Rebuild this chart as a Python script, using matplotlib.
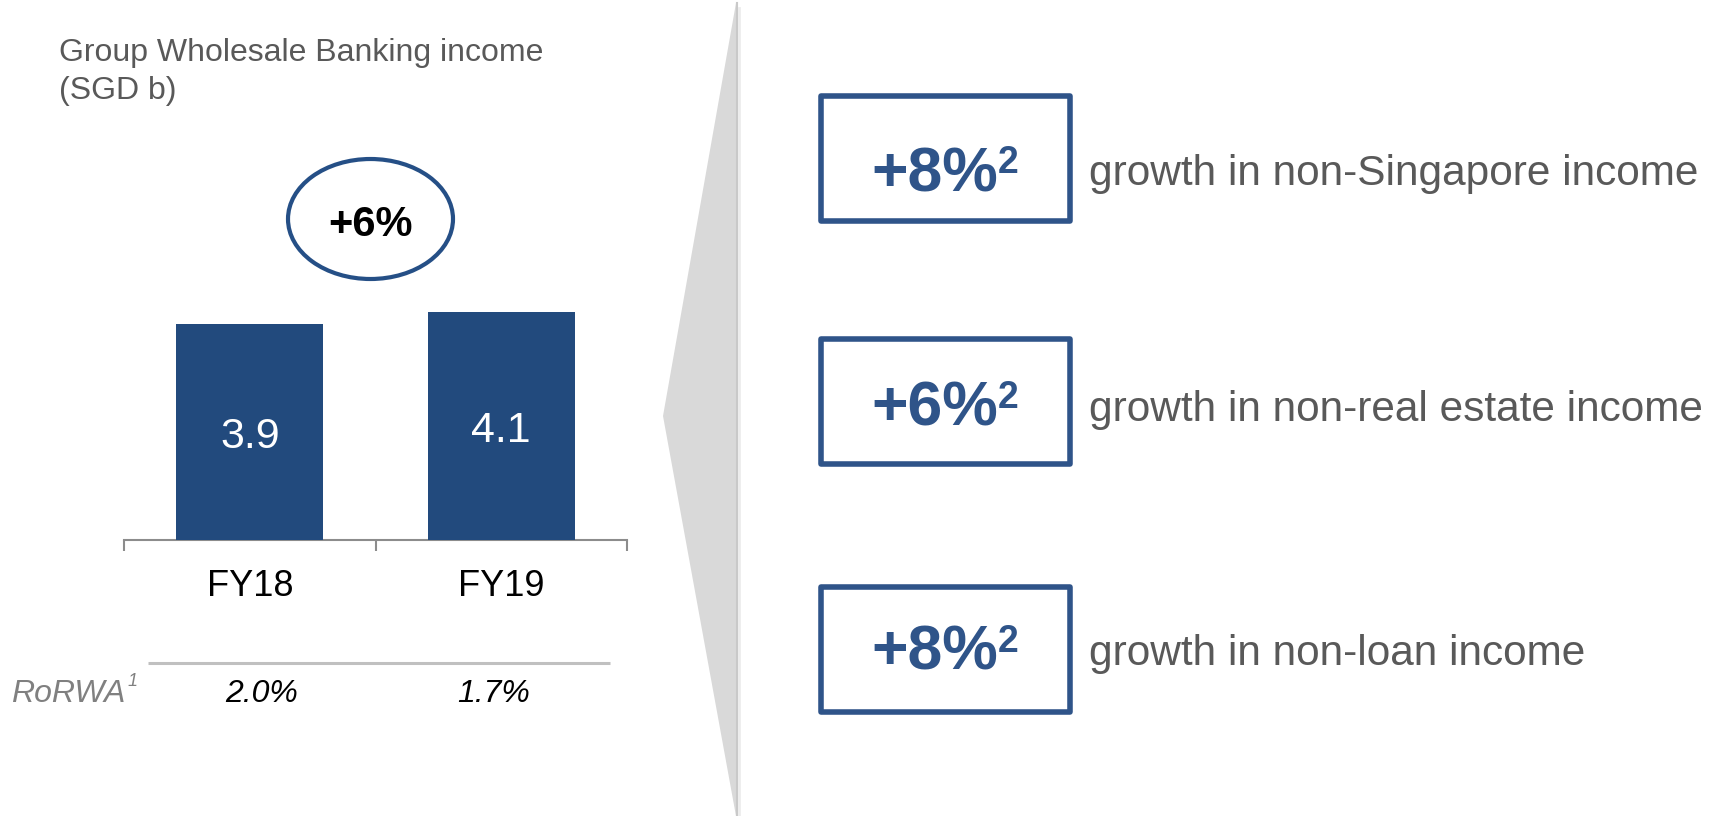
import matplotlib
matplotlib.use("Agg")
import matplotlib.pyplot as plt
from matplotlib.patches import Polygon, Rectangle, Ellipse

plt.rcParams['font.family'] = ['Liberation Sans', 'DejaVu Sans']

# ---------------- data ----------------
categories = ["FY18", "FY19"]
income = [3.9, 4.1]
income_labels = ["3.9", "4.1"]
growth_label = "+6%"
rorwa_title = "RoRWA"
rorwa_values = ["2.0%", "1.7%"]
kpi_values = ["+8%", "+6%", "+8%"]
kpi_texts = ["growth in non-Singapore income",
             "growth in non-real estate income",
             "growth in non-loan income"]
title_lines = ["Group Wholesale Banking income", "(SGD b)"]

# ---------------- style ----------------
BAR = "#224a7d"
ELL = "#254f86"
BOX = "#2f5489"
GREY_TXT = "#595959"

W, H = 1725, 816
fig = plt.figure(figsize=(W / 100, H / 100), dpi=100)
fig.patch.set_facecolor("white")

# background overlay axes in pixel coordinates (y downward)
bg = fig.add_axes([0, 0, 1, 1])
bg.set_xlim(0, W)
bg.set_ylim(H, 0)
bg.axis("off")
bg.set_zorder(0)

# title
bg.text(59, 61, title_lines[0], fontsize=23, color=GREY_TXT, ha="left", va="baseline")
bg.text(59, 99, title_lines[1], fontsize=23, color=GREY_TXT, ha="left", va="baseline")

# growth ellipse
bg.add_patch(Ellipse((370.5, 219), 165, 120, fill=False, edgecolor=ELL, lw=3))
bg.text(370.5, 236, growth_label, fontsize=30, fontweight="bold", color="black",
        ha="center", va="baseline")

# RoRWA row
bg.plot([148, 610], [663, 663], color="#c0c0c0", lw=2.2, solid_capstyle="butt")
bg.text(11, 702, rorwa_title, fontsize=23, style="italic", color="#808080",
        ha="left", va="baseline")
bg.text(128, 686, "1", fontsize=13, style="italic", color="#808080",
        ha="left", va="baseline")

# chevron / wedge separator
bg.add_patch(Polygon([[737, 5], [665, 418], [737, 818]], closed=True,
                     facecolor="#e8e8e8", edgecolor="none"))
bg.add_patch(Polygon([[736, 3], [663, 416], [736, 816]], closed=True,
                     facecolor="#d9d9d9", edgecolor="none"))
bg.plot([736.5, 736.5], [3, 816], color="#c9c9c9", lw=1.5)
bg.plot([738.5, 738.5], [8, 816], color="#ececec", lw=2)

# KPI boxes
box_tops = [93, 336, 584]
text_mid = [170, 405, 649]
box_h = 131
box_x0, box_x1 = 818, 1073
lw_px = 5.6
for top, tm, val, txt in zip(box_tops, text_mid, kpi_values, kpi_texts):
    bg.add_patch(Rectangle((box_x0 + lw_px / 2, top + lw_px / 2),
                           box_x1 - box_x0 - lw_px, box_h - lw_px,
                           fill=False, edgecolor=BOX, lw=4, joinstyle="round"))
    bg.text(998, tm + 21, val, fontsize=45, fontweight="bold", color=BOX,
            ha="right", va="baseline")
    bg.text(998, tm + 3, "2", fontsize=27, fontweight="bold", color=BOX,
            ha="left", va="baseline")
    bg.text(1089, tm + 15.5, txt, fontsize=30.5, color=GREY_TXT,
            ha="left", va="baseline")

# ---------------- bar chart ----------------
px_per_unit = 55.5
ymax = 5.0
ax = fig.add_axes([124 / W, (H - 540) / H, 503 / W, ymax * px_per_unit / H])
ax.set_zorder(2)
ax.patch.set_alpha(0)
x = list(range(len(categories)))
bars = ax.bar(x, income, width=0.585, color=BAR, zorder=3)
for xi, v, lab in zip(x, income, income_labels):
    ax.annotate(lab, xy=(xi, v / 2), xytext=(0, -3.6), textcoords="offset points",
                color="white", fontsize=31, ha="center", va="center")

ax.set_xlim(-0.5, len(categories) - 0.5)
ax.set_ylim(0, ymax)
for s in ["left", "right", "top"]:
    ax.spines[s].set_visible(False)
ax.spines["bottom"].set_color("#8c8c8c")
ax.spines["bottom"].set_linewidth(1.5)
ax.set_yticks([])
ax.set_xticks(x)
ax.set_xticklabels(categories, fontsize=26, color="black")
ax.tick_params(axis="x", which="major", length=0, pad=21)
ax.set_xticks([i - 0.5 for i in range(len(categories) + 1)], minor=True)
ax.tick_params(axis="x", which="minor", length=8, width=1.5, color="#8c8c8c",
               direction="out")

# RoRWA values under each category
rorwa_offsets = [0.048, -0.03]
for xi, val, off in zip(x, rorwa_values, rorwa_offsets):
    ax.annotate(val, xy=(xi + off, 0), xycoords=("data", "axes fraction"),
                xytext=(0, -162 / 1.389), textcoords="offset points",
                fontsize=23, style="italic", color="black",
                ha="center", va="baseline", annotation_clip=False)

fig.savefig("out.png", dpi=100, facecolor="white")
